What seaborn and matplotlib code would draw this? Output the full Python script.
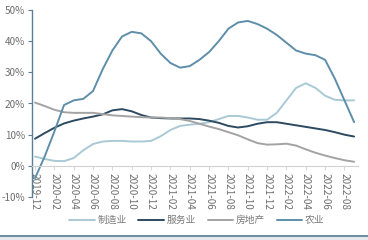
import matplotlib
matplotlib.use("Agg")
import matplotlib.pyplot as plt
import seaborn as sns
import pandas as pd
import numpy as np
from matplotlib.lines import Line2D

months = ["2019-12","2020-01","2020-02","2020-03","2020-04","2020-05","2020-06","2020-07",
          "2020-08","2020-09","2020-10","2020-11","2020-12","2021-01","2021-02","2021-03",
          "2021-04","2021-05","2021-06","2021-07","2021-08","2021-09","2021-10","2021-11",
          "2021-12","2022-01","2022-02","2022-03","2022-04","2022-05","2022-06","2022-07",
          "2022-08","2022-09"]

manufacturing = [3.0, 2.2, 1.6, 1.5, 2.5, 5.0, 7.0, 7.8, 8.0, 8.0, 7.8, 7.8, 8.0, 9.5, 11.5, 12.8,
                 13.2, 13.5, 14.0, 15.0, 16.0, 16.0, 15.5, 14.8, 14.8, 17.0, 21.0, 25.0, 26.5, 25.0,
                 22.5, 21.2, 21.0, 21.0]
services = [8.7, 10.5, 12.2, 13.6, 14.5, 15.2, 15.8, 16.5, 17.8, 18.2, 17.5, 16.3, 15.5, 15.3, 15.2, 15.2,
            15.2, 15.0, 14.5, 13.8, 12.8, 12.3, 12.7, 13.5, 14.0, 14.0, 13.5, 13.0, 12.5, 12.0,
            11.5, 10.8, 10.0, 9.4]
real_estate = [20.3, 19.2, 18.0, 17.2, 17.0, 17.0, 17.0, 16.6, 16.2, 16.0, 15.8, 15.6, 15.5, 15.5, 15.3, 15.0,
               14.4, 13.5, 12.6, 11.8, 10.8, 9.8, 8.5, 7.3, 6.8, 6.9, 7.1, 6.5, 5.3, 4.2,
               3.3, 2.5, 1.8, 1.3]
agriculture = [-4.0, 3.0, 11.0, 19.5, 21.0, 21.5, 24.0, 31.0, 37.0, 41.5, 43.0, 42.5, 40.0, 36.0, 33.0, 31.5,
               32.0, 34.0, 36.5, 40.0, 44.0, 46.0, 46.5, 45.5, 44.0, 42.0, 39.5, 37.0, 36.0, 35.5,
               34.0, 28.0, 21.0, 14.0]

series_names = ["制造业", "服务业", "房地产", "农业"]
colors = ["#a9c9d5", "#2d4a60", "#a3a3a3", "#5e8ea9"]
yticks = [-10, 0, 10, 20, 30, 40, 50]
xtick_labels = months[::2]

sns.set_theme(style="white")
plt.rcParams['font.family'] = ['Noto Sans CJK SC', 'DejaVu Sans']

rows = []
for name, vals in zip(series_names, [manufacturing, services, real_estate, agriculture]):
    for i, v in enumerate(vals):
        rows.append({"idx": i, "value": v, "series": name})
df = pd.DataFrame(rows)

fig = plt.figure(figsize=(3.68, 2.40), dpi=100)
ax = fig.add_axes([32/368, 1-197/240, (358-32)/368, (197-10)/240])

sns.lineplot(data=df, x="idx", y="value", hue="series", palette=dict(zip(series_names, colors)),
             hue_order=series_names, linewidth=1.4, ax=ax, legend=False)

for s in ["top", "right"]:
    ax.spines[s].set_visible(False)
ax.spines["left"].set_color("#5d7f95")
ax.spines["left"].set_linewidth(1.0)
ax.spines["bottom"].set_position(("data", 0))
ax.spines["bottom"].set_color("#d0d0d0")
ax.spines["bottom"].set_linewidth(0.8)

ax.set_xlim(-0.31, 33.4)
ax.set_ylim(-10, 50)
ax.set_yticks(yticks)
ax.set_yticklabels([f"{t}%" for t in yticks], fontsize=7.2, color="#6e6e6e")
ax.set_xticks(range(0, len(months), 2))
ax.set_xticklabels(xtick_labels, rotation=270, fontsize=7.2, color="#6e6e6e",
                   ha="center", va="top")
ax.set_xlabel("")
ax.set_ylabel("")
ax.tick_params(axis="y", left=True, length=3, width=0.8, color="#5d7f95", pad=2)
ax.tick_params(axis="x", bottom=True, length=3, width=0.6, color="#d0d0d0", pad=2)

handles = [Line2D([0], [0], color=c, lw=1.4) for c in colors]
fig.legend(handles, series_names, loc="center", bbox_to_anchor=(0.535, 1-220/240), ncol=4,
           frameon=False, fontsize=7, handlelength=2.6, handletextpad=0.3, columnspacing=1.2,
           labelcolor="#7a7a7a")

fig.add_artist(Line2D([0, 1], [1-236/240, 1-236/240], transform=fig.transFigure,
                      color="#6f8ea3", lw=1.5))
fig.patches.append(plt.Rectangle((0, 0), 1, 1-237/240, transform=fig.transFigure,
                                 color="#e6eaee", zorder=-1))

fig.savefig("out.png", dpi=100)
